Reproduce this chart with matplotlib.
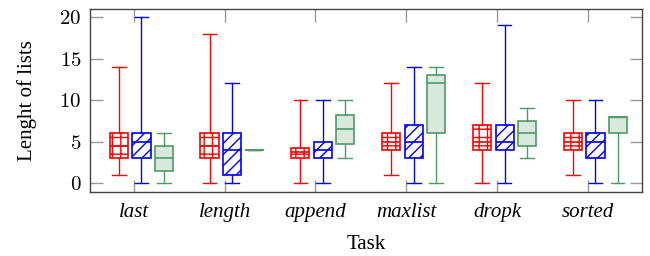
import numpy as np
import matplotlib
matplotlib.use('Agg')
import matplotlib.pyplot as plt

plt.rcParams['font.family'] = ['Liberation Serif', 'DejaVu Serif']
plt.rcParams['mathtext.fontset'] = 'cm'
plt.rcParams['hatch.linewidth'] = 1.0

tasks = ['last', 'length', 'append', 'maxlist', 'dropk', 'sorted']

# five-number summaries per task: whisker low, q1, median, q3, whisker high
red_lo = [1, 0, 0, 1, 0, 1]
red_q1 = [3, 3, 3, 4, 4, 4]
red_med = [4.5, 4.5, 3.75, 5, 5, 5]
red_q3 = [6, 6, 4.25, 6, 7, 6]
red_hi = [14, 18, 10, 12, 12, 10]

blue_lo = [0, 0, 0, 0, 0, 0]
blue_q1 = [3, 1, 3, 3, 4, 3]
blue_med = [5, 4, 4, 5, 5, 5]
blue_q3 = [6, 6, 5, 7, 7, 6]
blue_hi = [20, 12, 10, 14, 19, 10]

green_lo = [0, 4, 3, 0, 3, 0]
green_q1 = [1.5, 4, 4.75, 6, 4.5, 6]
green_med = [3, 4, 6.5, 12, 6, 8]
green_q3 = [4.5, 4, 8.25, 13, 7.5, 8]
green_hi = [6, 4, 10, 14, 9, 8]


def make_stats(lo, q1, med, q3, hi):
    return [dict(whislo=a, q1=b, med=c, q3=d, whishi=e, fliers=[])
            for a, b, c, d, e in zip(lo, q1, med, q3, hi)]


fig = plt.figure(figsize=(6.5, 2.56), dpi=100)
ax = fig.add_axes([0.138, 0.25, 0.85, 0.715])

pos = np.arange(1, len(tasks) + 1)
series = [
    (make_stats(red_lo, red_q1, red_med, red_q3, red_hi), -0.165, '#ff0000', 'none', '++'),
    (make_stats(blue_lo, blue_q1, blue_med, blue_q3, blue_hi), 0.085, '#0000ff', 'none', '///'),
    (make_stats(green_lo, green_q1, green_med, green_q3, green_hi), 0.33, '#4f9a66', '#d9e8dd', None),
]

for stats, off, col, fill, hatch in series:
    ax.bxp(stats, positions=pos + off, widths=0.2, capwidths=0.15,
           patch_artist=True, showfliers=False,
           boxprops=dict(edgecolor=col, facecolor=fill, hatch=hatch, linewidth=1.2),
           medianprops=dict(color=col, linewidth=1.2),
           whiskerprops=dict(color=col, linewidth=1.0),
           capprops=dict(color=col, linewidth=1.0))

ax.set_xlim(0.515, 6.6)
ax.set_ylim(-1.05, 20.96)
ax.set_xticks(pos)
ax.set_xticklabels(tasks, fontsize=15, style='italic')
ax.set_yticks([0, 5, 10, 15, 20])
ax.set_yticklabels(['$%d$' % v for v in [0, 5, 10, 15, 20]], fontsize=15)
ax.tick_params(direction='in', top=True, right=True, color='#999999',
               length=9, width=1.0, pad=6)
ax.tick_params(axis='x', pad=8)
for s in ax.spines.values():
    s.set_color('#444444')
    s.set_linewidth(1.0)

ax.set_xlabel('Task', fontsize=15, labelpad=9)
ax.set_ylabel('Lenght of lists', fontsize=15, labelpad=16)

fig.savefig('out.png', dpi=100)
